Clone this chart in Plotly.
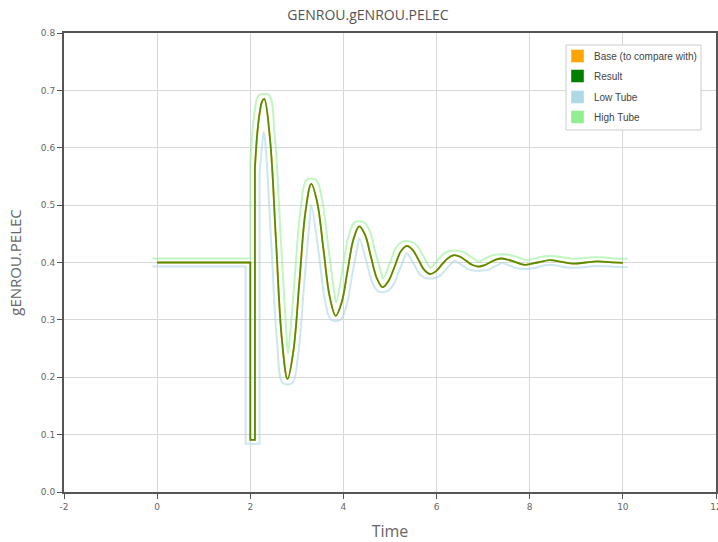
import plotly.graph_objects as go

# ---------------- data ----------------
# Result / base: flat operating point, fault dip (linear part)
step_t = [0.0, 2.0, 2.0, 2.1, 2.1]
step_v = [0.400, 0.400, 0.091, 0.091, 0.565]

# Result / base: post-fault damped swing (smooth part)
osc_t = [2.10, 2.15, 2.20, 2.25, 2.30, 2.425, 2.55, 2.675, 2.80,
         2.9275, 3.055, 3.1825, 3.31, 3.441, 3.5725, 3.704, 3.835,
         3.961, 4.0875, 4.214, 4.34, 4.465, 4.59, 4.715, 4.84,
         4.97, 5.10, 5.23, 5.36, 5.485, 5.61, 5.735, 5.86,
         5.99, 6.12, 6.25, 6.38, 6.5075, 6.635, 6.7625, 6.89,
         7.0175, 7.145, 7.2725, 7.40, 7.5275, 7.655, 7.7825, 7.91,
         8.17, 8.43, 8.685, 8.94, 9.195, 9.45, 9.72, 10.0]
osc_v = [0.565, 0.625, 0.660, 0.680, 0.685, 0.614, 0.441, 0.269, 0.197,
         0.247, 0.367, 0.487, 0.537, 0.503, 0.422, 0.341, 0.307,
         0.330, 0.385, 0.440, 0.463, 0.448, 0.410, 0.373, 0.357,
         0.368, 0.393, 0.419, 0.429, 0.422, 0.405, 0.387, 0.380,
         0.385, 0.397, 0.408, 0.413, 0.410, 0.403, 0.396, 0.393,
         0.395, 0.400, 0.405, 0.407, 0.405, 0.402, 0.398, 0.396,
         0.400, 0.404, 0.401, 0.398, 0.400, 0.402, 0.4005, 0.3995]

# Low tube
low_step_t = [-0.1, 1.9, 1.9, 2.2, 2.2]
low_step_v = [0.393, 0.393, 0.084, 0.084, 0.558]
low_osc_t = [2.20, 2.25, 2.29, 2.325, 2.45, 2.575, 2.70, 2.90,
             3.0275, 3.155, 3.2825, 3.31, 3.4725, 3.604, 3.735, 3.935,
             4.061, 4.1875, 4.314, 4.34, 4.49, 4.615, 4.74, 4.94,
             5.07, 5.20, 5.33, 5.36, 5.51, 5.635, 5.76, 5.96,
             6.09, 6.22, 6.35, 6.38, 6.535, 6.6625, 6.79, 6.99,
             7.1175, 7.245, 7.3725, 7.40, 7.555, 7.6825, 7.81, 8.01,
             8.43, 8.84, 9.04, 9.45, 9.9, 10.1]
low_osc_v = [0.558, 0.600, 0.628, 0.607, 0.434, 0.262, 0.190, 0.190,
             0.240, 0.360, 0.480, 0.500, 0.415, 0.334, 0.300, 0.300,
             0.323, 0.378, 0.433, 0.442, 0.403, 0.366, 0.350, 0.350,
             0.361, 0.386, 0.412, 0.416, 0.398, 0.380, 0.373, 0.373,
             0.378, 0.390, 0.401, 0.403, 0.396, 0.389, 0.386, 0.386,
             0.388, 0.393, 0.398, 0.399, 0.395, 0.391, 0.389, 0.389,
             0.396, 0.391, 0.391, 0.394, 0.392, 0.392]

# High tube
high_step_t = [-0.1, 2.0, 2.0]
high_step_v = [0.407, 0.407, 0.572]
high_osc_t = [2.00, 2.05, 2.10, 2.15, 2.20, 2.40, 2.525, 2.65, 2.775, 2.81,
              2.85, 2.90, 2.955, 3.0825, 3.21, 3.41, 3.541, 3.6725, 3.804, 3.845,
              3.9875, 4.114, 4.24, 4.44, 4.565, 4.69, 4.815, 4.85,
              5.00, 5.13, 5.26, 5.46, 5.585, 5.71, 5.835, 5.865,
              6.02, 6.15, 6.28, 6.48, 6.6075, 6.735, 6.8625, 6.89,
              7.045, 7.1725, 7.30, 7.50, 7.6275, 7.755, 7.8825, 7.91,
              8.33, 8.53, 8.94, 9.35, 9.55, 9.9, 10.1]
high_osc_v = [0.572, 0.632, 0.667, 0.687, 0.692, 0.692, 0.621, 0.448, 0.276, 0.241,
              0.271, 0.317, 0.374, 0.494, 0.544, 0.544, 0.510, 0.429, 0.348, 0.331,
              0.392, 0.447, 0.470, 0.470, 0.455, 0.417, 0.380, 0.372,
              0.400, 0.426, 0.436, 0.436, 0.429, 0.412, 0.394, 0.391,
              0.404, 0.415, 0.420, 0.420, 0.417, 0.410, 0.403, 0.401,
              0.407, 0.412, 0.414, 0.414, 0.412, 0.409, 0.405, 0.404,
              0.411, 0.411, 0.4065, 0.409, 0.409, 0.4065, 0.4065]

x_ticks = [-2, 0, 2, 4, 6, 8, 10, 12]
x_tick_text = ["-2", "0", "2", "4", "6", "8", "10", "12"]

legend_names = ["Base (to compare with)", "Result", "Low Tube", "High Tube"]
legend_colors = ["#FFA500", "#008000", "#ADD8E6", "#90EE90"]

# ---------------- figure ----------------
W, H = 718, 542
ML, MR, MT, MB = 64, 2, 33, 50
PW, PH = W - ML - MR, H - MT - MB


def px(x):
    return (x - ML) / PW


def py(y):
    return (H - MB - y) / PH


fig = go.Figure()


def add_series(t_lin, v_lin, t_spl, v_spl, color, width, opacity=1.0):
    fig.add_trace(go.Scatter(x=t_lin, y=v_lin, mode="lines", showlegend=False,
                             hoverinfo="skip", opacity=opacity,
                             line=dict(color=color, width=width, shape="linear")))
    fig.add_trace(go.Scatter(x=t_spl, y=v_spl, mode="lines", showlegend=False,
                             hoverinfo="skip", opacity=opacity,
                             line=dict(color=color, width=width, shape="spline",
                                       smoothing=1.0)))


add_series(low_step_t, low_step_v, low_osc_t, low_osc_v, "#ADD8E6", 2, 0.6)
add_series(high_step_t, high_step_v, high_osc_t, high_osc_v, "#90EE90", 2, 0.55)
add_series(step_t, step_v, osc_t, osc_v, "#FFA500", 1.8)
add_series(step_t, step_v, osc_t, osc_v, "#008000", 1.8, 0.65)

axis_common = dict(
    showgrid=True, gridcolor="#d8d8d8", gridwidth=1,
    showline=True, linecolor="#555555", linewidth=2, mirror=True,
    ticks="outside", ticklen=5, tickcolor="#555555", tickwidth=1,
    tickfont=dict(family="DejaVu Sans", size=9, color="#666666"),
    zeroline=False, ticklabeloverflow="allow", automargin=False,
)

fig.update_xaxes(range=[-2, 12], tickvals=x_ticks, ticktext=x_tick_text,
                 title=dict(text="Time", standoff=21,
                            font=dict(family="Open Sans", size=16, color="#666666")),
                 **axis_common)
fig.update_yaxes(range=[0, 0.8], tick0=0, dtick=0.1, tickformat=".1f",
                 title=dict(text="gENROU.PELEC", standoff=16,
                            font=dict(family="Open Sans", size=15, color="#666666")),
                 **axis_common)

# legend box drawn above the traces
shapes = [dict(type="rect", xref="paper", yref="paper", layer="above",
               x0=px(566), x1=px(701), y0=py(130), y1=py(45),
               fillcolor="white", line=dict(color="#cccccc", width=1))]
annotations = []
row_y = [56, 76, 97, 117]
for name, col, yc in zip(legend_names, legend_colors, row_y):
    shapes.append(dict(type="rect", xref="paper", yref="paper", layer="above",
                       x0=px(571), x1=px(584), y0=py(yc + 6.5), y1=py(yc - 6.5),
                       fillcolor=col, line=dict(color="rgba(255,255,255,0.45)", width=1)))
    annotations.append(dict(xref="paper", yref="paper", x=px(592), y=py(yc),
                            xanchor="left", yanchor="middle", showarrow=False,
                            text=name, font=dict(family="Liberation Sans", size=10,
                                                 color="#444444")))

fig.update_layout(
    width=W, height=H,
    margin=dict(l=ML, r=MR, t=MT, b=MB, autoexpand=False),
    paper_bgcolor="white", plot_bgcolor="white",
    title=dict(text="GENROU.gENROU.PELEC", xref="container", x=368 / W,
               xanchor="center", yref="container", y=1 - 15 / H, yanchor="middle",
               font=dict(family="Open Sans", size=14, color="#555555")),
    shapes=shapes, annotations=annotations, showlegend=False,
)

fig.write_html("out.html")
